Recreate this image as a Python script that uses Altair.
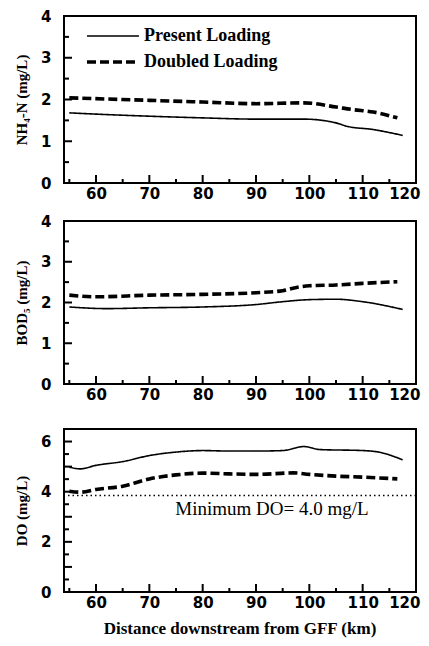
import altair as alt
import pandas as pd

# ---------------- data ----------------
series_names = ["Present Loading", "Doubled Loading"]

nh4_x_present = [55, 60, 70, 80, 90, 99, 105, 107, 112, 117.5]
nh4_present = [1.68, 1.65, 1.60, 1.56, 1.53, 1.53, 1.44, 1.36, 1.28, 1.14]
nh4_x_doubled = [55, 70, 80, 90, 99, 105, 108, 112, 116.5]
nh4_doubled = [2.04, 1.98, 1.94, 1.90, 1.92, 1.82, 1.76, 1.70, 1.56]

bod_x_present = [55, 62, 70, 80, 90, 95, 100, 105, 110, 117.5]
bod_present = [1.89, 1.85, 1.87, 1.89, 1.95, 2.02, 2.07, 2.08, 2.02, 1.83]
bod_x_doubled = [55, 60, 70, 80, 90, 95, 98, 100, 105, 110, 116.5]
bod_doubled = [2.18, 2.14, 2.18, 2.20, 2.24, 2.29, 2.38, 2.41, 2.43, 2.47, 2.51]

do_x_present = [55, 57, 60, 65, 70, 75, 80, 85, 90, 95, 99, 102, 110, 113, 117.5]
do_present = [4.98, 4.91, 5.05, 5.20, 5.44, 5.58, 5.64, 5.62, 5.62, 5.64, 5.80, 5.68, 5.64, 5.58, 5.27]
do_x_doubled = [55, 57, 60, 65, 70, 75, 80, 85, 90, 97, 100, 105, 110, 116.5]
do_doubled = [4.02, 3.98, 4.09, 4.22, 4.51, 4.67, 4.74, 4.71, 4.69, 4.75, 4.69, 4.62, 4.58, 4.51]

min_do_level = [3.85]
min_do_label = ["Minimum DO= 4.0 mg/L"]
min_do_label_pos = [93.0, 3.3]

x_domain = [54, 120]
x_label_values = [60, 70, 80, 90, 100, 110, 120]
x_major_ticks = [60, 70, 80, 90, 100, 110]
x_minor_ticks = [55, 65, 75, 85, 95, 105, 115]

W = 352
SERIF = "Liberation Serif"
SANS = "DejaVu Sans"
LEGEND_ROWS_PX = [20, 46]

dash_scale = alt.Scale(domain=series_names, range=[[1, 0], [9, 4]])
width_scale = alt.Scale(domain=series_names, range=[1.6, 3.6])


def make_df(xp, yp, xd, yd):
    rows = [{"x": a, "y": b, "series": series_names[0]} for a, b in zip(xp, yp)]
    rows += [{"x": a, "y": b, "series": series_names[1]} for a, b in zip(xd, yd)]
    return pd.DataFrame(rows)


def panel(df, ytitle, ydomain, ymajor, yminor, height, legend=False, extra=None):
    xs = alt.Scale(domain=x_domain, nice=False, zero=False)
    ys = alt.Scale(domain=ydomain, nice=False, zero=False)
    lines = alt.Chart(df).mark_line(color="black", interpolate="monotone").encode(
        x=alt.X("x:Q", scale=xs, axis=alt.Axis(
            values=x_label_values, title=None, ticks=False, domain=False, grid=False,
            labelFont=SANS, labelFontWeight="bold", labelFontSize=15,
            labelColor="black", labelPadding=3, labelFlush=True,
            labelFlushOffset=4)),
        y=alt.Y("y:Q", scale=ys, axis=alt.Axis(
            values=ymajor, title=ytitle, ticks=False, domain=False, grid=False,
            labelFont=SANS, labelFontWeight="bold", labelFontSize=15,
            labelColor="black", labelPadding=13, titleFont=SERIF,
            titleFontWeight="bold", titleFontSize=15, titleColor="black",
            titlePadding=11, format="d")),
        strokeDash=alt.StrokeDash("series:N", scale=dash_scale, legend=None),
        strokeWidth=alt.StrokeWidth("series:N", scale=width_scale, legend=None),
        detail="series:N",
    )
    xmaj = alt.Chart(pd.DataFrame({"x": x_major_ticks})).mark_rule(
        color="black", strokeWidth=2).encode(
        x=alt.X("x:Q", scale=xs), y=alt.value(height), y2=alt.value(height - 8))
    xmin = alt.Chart(pd.DataFrame({"x": x_minor_ticks})).mark_rule(
        color="black", strokeWidth=2).encode(
        x=alt.X("x:Q", scale=xs), y=alt.value(height), y2=alt.value(height - 4))
    ymaj = alt.Chart(pd.DataFrame({"y": ymajor})).mark_rule(
        color="black", strokeWidth=2).encode(
        y=alt.Y("y:Q", scale=ys), x=alt.value(0), x2=alt.value(8))
    ymin = alt.Chart(pd.DataFrame({"y": yminor})).mark_rule(
        color="black", strokeWidth=2).encode(
        y=alt.Y("y:Q", scale=ys), x=alt.value(0), x2=alt.value(5))
    layers = [xmaj, xmin, ymaj, ymin]
    if extra:
        layers += extra(xs, ys)
    layers.append(lines)
    if legend:
        leg_df = pd.DataFrame({"series": series_names})
        for name, row_y in zip(series_names, LEGEND_ROWS_PX):
            base = alt.Chart(leg_df).transform_filter(alt.datum.series == name)
            layers.append(base.mark_rule(color="black").encode(
                x=alt.value(23), x2=alt.value(75), y=alt.value(row_y),
                strokeDash=alt.StrokeDash("series:N", scale=dash_scale, legend=None),
                strokeWidth=alt.StrokeWidth("series:N", scale=width_scale, legend=None)))
            layers.append(base.mark_text(
                font=SERIF, fontWeight="bold", fontSize=18, color="black",
                align="left", baseline="middle").encode(
                x=alt.value(80), y=alt.value(row_y), text="series:N"))
    return alt.layer(*layers).properties(width=W, height=height)


def do_extra(xs, ys):
    rule = alt.Chart(pd.DataFrame({"y": min_do_level})).mark_rule(
        color="black", strokeDash=[1.5, 3], strokeWidth=1.5).encode(
        y=alt.Y("y:Q", scale=ys))
    txt = alt.Chart(pd.DataFrame({"x": [min_do_label_pos[0]], "y": [min_do_label_pos[1]],
                                  "t": min_do_label})).mark_text(
        font=SERIF, fontSize=19, color="black", align="center", baseline="middle").encode(
        x=alt.X("x:Q", scale=xs), y=alt.Y("y:Q", scale=ys), text="t:N")
    return [rule, txt]


p1 = panel(make_df(nh4_x_present, nh4_present, nh4_x_doubled, nh4_doubled),
           "NH₄-N (mg/L)", [0, 4], [0, 1, 2, 3, 4], [0.5, 1.5, 2.5, 3.5], 167, legend=True)
p2 = panel(make_df(bod_x_present, bod_present, bod_x_doubled, bod_doubled),
           "BOD₅ (mg/L)", [0, 4], [0, 1, 2, 3, 4], [0.5, 1.5, 2.5, 3.5], 163)
p3 = panel(make_df(do_x_present, do_present, do_x_doubled, do_doubled),
           "DO (mg/L)", [0, 6.5], [0, 1, 2, 3, 4, 5, 6],
           [0.5, 1.5, 2.5, 3.5, 4.5, 5.5], 163, extra=do_extra)

bottom = p3.properties(title=alt.TitleParams(
    "Distance downstream from GFF (km)", orient="bottom", font=SERIF,
    fontWeight="bold", fontSize=17, color="black", offset=11))

top = alt.vconcat(p1, p2, spacing=11).resolve_scale(
    strokeDash="independent", strokeWidth="independent")

chart = alt.vconcat(top, bottom, spacing=25).resolve_scale(
    strokeDash="independent", strokeWidth="independent").properties(
    padding={"left": 5, "top": 0, "right": 0, "bottom": 0},
    background="white",
).configure_view(stroke="black", strokeWidth=2)

chart.save("out.html", embed_options={"renderer": "svg", "actions": False})
